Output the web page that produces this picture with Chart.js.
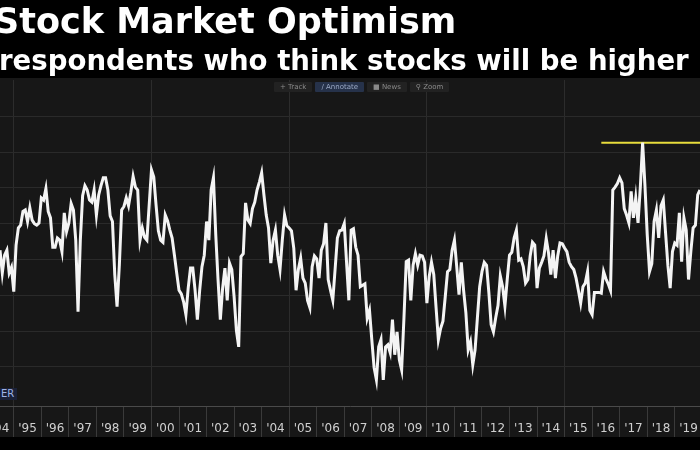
<!DOCTYPE html>
<html>
<head>
<meta charset="utf-8">
<script src="https://cdn.jsdelivr.net/npm/chart.js@4.4.1/dist/chart.umd.min.js"></script>
<style>
  html, body { margin: 0; padding: 0; background: #000; }
  #wrap { position: relative; width: 700px; height: 450px; overflow: hidden; background: #000;
          font-family: "DejaVu Sans", Verdana, sans-serif; }
  #chart { position: absolute; left: 0; top: 0; }
  .title { position: absolute; left: -6px; top: 0px; color: #fff; font-weight: bold;
           font-size: 35px; line-height: 42px; white-space: nowrap; }
  .subtitle { position: absolute; left: -1px; top: 44px; color: #fff; font-weight: bold;
              font-size: 27.6px; line-height: 34px; white-space: nowrap; }
  .toolbar { position: absolute; top: 82px; left: 274px; display: flex; gap: 3px; }
  .toolbar span { font-size: 7px; line-height: 10px; color: #8a8a8a; background: #222;
                  padding: 0 6px; border-radius: 1px; }
  .toolbar span.on { background: #26324a; color: #9aa8c4; }
  .tag { position: absolute; left: -2px; top: 388px; font-size: 10px; line-height: 12px;
         color: #9fb2e6; background: #1a2138; padding: 0 3px; }
</style>
</head>
<body>
<div id="wrap">
  <canvas id="chart" width="700" height="450"></canvas>
  <div class="title">Stock Market Optimism</div>
  <div class="subtitle">respondents who think stocks will be higher</div>
  <div class="toolbar"><span>+ Track</span><span class="on">&#8725; Annotate</span><span>&#9632; News</span><span>&#9906; Zoom</span></div>
  <div class="tag">ER</div>
</div>
<script>
// monthly share (%) of respondents expecting higher stock prices, from Jul 1994
const startYear = 1994;
const startMonth = 7;
const optimism = [
  31.3, 28.1, 30.6, 31.3, 28.1, 28.9, 25.5, 32.0, 34.4, 34.8, 36.7, 36.9,
  35.3, 37.2, 35.5, 35.0, 34.8, 35.1, 38.6, 38.3, 39.9, 36.7, 35.8, 31.7,
  31.7, 33.0, 32.7, 31.1, 36.5, 33.9, 35.1, 37.8, 36.9, 32.7, 22.7, 32.7,
  38.9, 40.3, 39.7, 38.3, 38.0, 39.7, 36.2, 39.0, 40.3, 41.4, 41.4, 39.7,
  36.1, 35.3, 27.9, 23.4, 29.2, 36.9, 37.4, 38.6, 37.5, 39.4, 41.6, 40.1,
  39.7, 32.7, 34.4, 33.1, 32.7, 37.6, 42.5, 41.5, 37.6, 34.0, 32.7, 32.4,
  36.2, 35.4, 34.1, 33.0, 30.6, 28.1, 25.7, 25.2, 24.1, 22.3, 26.0, 28.8,
  28.8, 25.7, 21.6, 25.7, 29.0, 30.6, 35.3, 32.7, 39.7, 41.4, 33.5, 27.2,
  21.6, 26.0, 28.8, 24.3, 29.5, 28.6, 24.8, 20.1, 17.8, 30.4, 30.8, 37.9,
  35.5, 35.0, 37.1, 38.0, 39.7, 40.8, 42.1, 39.0, 36.2, 34.4, 29.5, 32.7,
  34.1, 30.6, 28.6, 32.7, 36.2, 34.7, 34.4, 34.0, 31.6, 25.7, 28.6, 30.2,
  27.4, 26.7, 24.3, 23.3, 29.0, 30.5, 30.1, 27.4, 31.3, 32.2, 35.1, 27.2,
  25.7, 24.3, 28.6, 33.0, 34.0, 34.1, 35.0, 29.6, 24.3, 34.1, 34.3, 31.7,
  30.6, 26.2, 26.4, 26.6, 21.8, 22.9, 18.8, 14.9, 13.2, 17.8, 18.8, 13.2,
  17.8, 18.1, 17.0, 21.6, 16.7, 19.9, 16.0, 14.6, 21.8, 29.7, 29.9, 24.3,
  29.2, 30.8, 29.2, 30.6, 30.5, 29.6, 23.9, 27.6, 29.6, 27.9, 23.3, 18.8,
  20.4, 21.4, 24.8, 28.3, 28.6, 31.3, 32.7, 29.0, 25.1, 29.6, 25.7, 22.5,
  17.4, 18.5, 15.3, 17.4, 21.8, 26.2, 28.3, 29.6, 29.2, 25.4, 20.9, 19.9,
  21.9, 23.6, 27.7, 26.2, 23.5, 27.2, 30.6, 31.0, 33.0, 34.1, 29.9, 30.1,
  29.0, 26.7, 27.2, 30.5, 32.4, 32.0, 26.0, 28.8, 29.6, 30.5, 32.9, 30.9,
  27.9, 31.3, 27.4, 30.5, 32.3, 32.2, 31.6, 31.1, 29.6, 29.0, 28.6, 27.4,
  25.7, 23.9, 26.2, 26.7, 28.3, 22.9, 22.3, 25.4, 25.4, 25.4, 25.3, 28.3,
  27.3, 26.6, 25.7, 39.7, 40.1, 40.6, 41.4, 40.7, 37.1, 36.2, 35.1, 39.5,
  35.8, 38.6, 35.1, 40.1, 46.3, 40.4, 33.5, 28.3, 29.4, 35.3, 36.9, 33.0,
  37.5, 38.3, 33.7, 29.2, 26.0, 31.1, 32.3, 32.0, 36.5, 29.7, 35.8, 34.1,
  27.2, 31.1, 34.4, 34.8, 39.0, 39.7
];
const yearTicks = ["'94", "'95", "'96", "'97", "'98", "'99", "'00", "'01", "'02", "'03",
  "'04", "'05", "'06", "'07", "'08", "'09", "'10", "'11", "'12", "'13",
  "'14", "'15", "'16", "'17", "'18", "'19"];
const gridLevels = [15, 20, 25, 30, 35, 40, 45, 50];
const recordHigh = 46.3;
const recordFrom = '2016-05';

const monthNo = i => startYear * 12 + startMonth - 1 + i;
const months = optimism.map((_, i) => {
  const t = monthNo(i);
  return Math.floor(t / 12) + '-' + String(t % 12 + 1).padStart(2, '0');
});
const isJan = i => monthNo(i) % 12 === 0;
const yearOf = i => Math.floor(monthNo(i) / 12);

const backdrop = {
  id: 'backdrop',
  beforeDraw(chart) {
    const { ctx, chartArea } = chart;
    ctx.save();
    ctx.fillStyle = '#000';
    ctx.fillRect(0, 0, chart.width, chart.height);
    ctx.fillStyle = '#171717';
    ctx.fillRect(0, chartArea.top - 2, chart.width, chartArea.bottom + 31 - chartArea.top + 2);
    ctx.restore();
  }
};

new Chart(document.getElementById('chart'), {
  type: 'line',
  data: {
    labels: months,
    datasets: [{
      data: optimism,
      borderColor: '#f4f4f4',
      borderWidth: 3,
      pointRadius: 0,
      tension: 0
    }, {
      data: [{ x: recordFrom, y: recordHigh }, { x: months[months.length - 1], y: recordHigh }],
      borderColor: '#e8dc3c',
      borderWidth: 2,
      pointRadius: 0
    }]
  },
  options: {
    responsive: false,
    animation: false,
    layout: { padding: { top: 80, left: 0, right: 0, bottom: 0 } },
    plugins: { legend: { display: false }, tooltip: { enabled: false } },
    scales: {
      x: {
        type: 'category',
        offset: false,
        afterFit: s => { s.height = 44; },
        border: { display: true, color: '#4a4a4a', width: 1 },
        grid: {
          color: c => isJan(c.index) && yearOf(c.index) % 5 === 0 ? '#2c2c2c' : 'transparent',
          tickColor: c => isJan(c.index) ? '#3a3a3a' : 'transparent',
          tickLength: 31,
          lineWidth: 1
        },
        ticks: {
          autoSkip: false,
          maxRotation: 0,
          padding: -15,
          color: '#cfcfcf',
          font: { family: 'DejaVu Sans', size: 12 },
          callback: (v, i) => monthNo(i) % 12 === 6 ? yearTicks[yearOf(i) - startYear] : ''
        }
      },
      y: {
        min: 9.55,
        max: 55.05,
        afterFit: s => { s.width = 0; },
        afterBuildTicks: s => { s.ticks = gridLevels.map(v => ({ value: v })); },
        border: { display: false },
        grid: { color: '#2a2a2a', lineWidth: 1, drawTicks: false },
        ticks: { display: false }
      }
    }
  },
  plugins: [backdrop]
});
</script>
</body>
</html>
